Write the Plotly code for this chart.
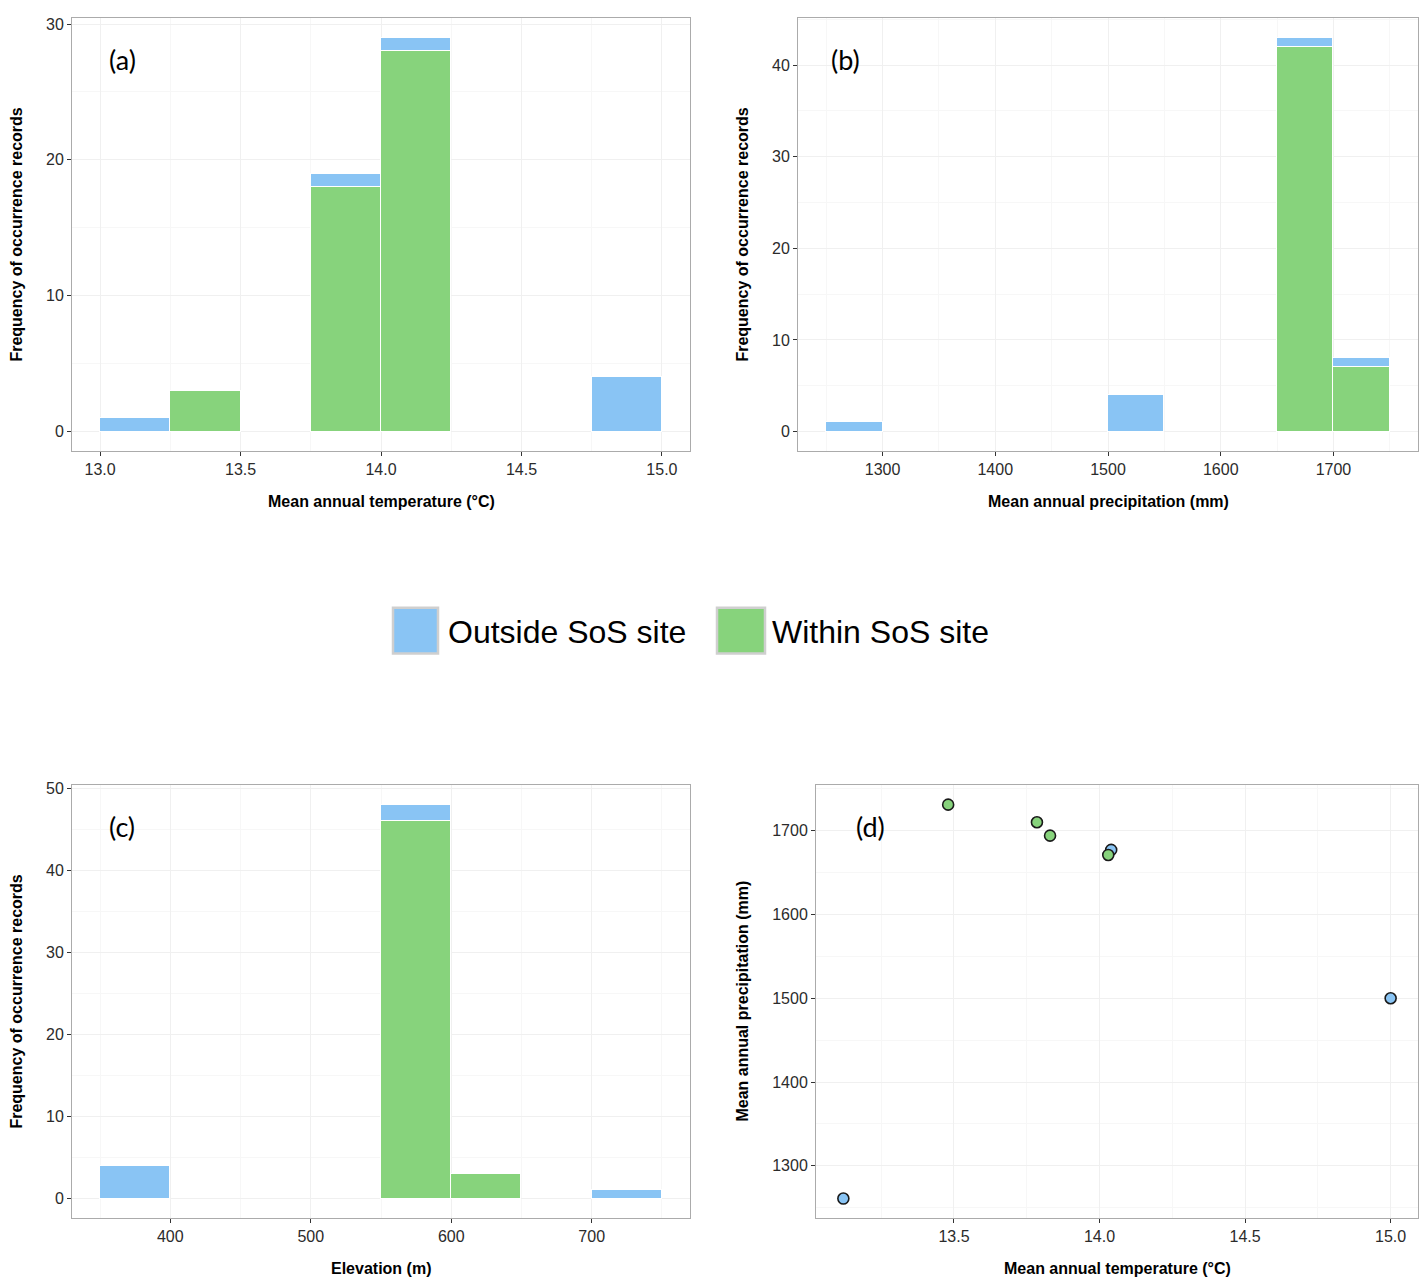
import plotly.graph_objects as go

W, H = 1428, 1282

# ---------------- data ----------------
series_names = ["Outside SoS site", "Within SoS site"]
series_colors = ["#89C4F4", "#87D37C"]

# (a) mean annual temperature histogram (bin width 0.25)
temp_bin_start = [13.0, 13.25, 13.5, 13.75, 14.0, 14.25, 14.5, 14.75]
temp_bin_width = 0.25
temp_outside = [1, 0, 0, 1, 1, 0, 0, 4]
temp_within = [0, 3, 0, 18, 28, 0, 0, 0]

# (b) mean annual precipitation histogram (bin width 50)
precip_bin_start = [1250, 1300, 1350, 1400, 1450, 1500, 1550, 1600, 1650, 1700]
precip_bin_width = 50
precip_outside = [1, 0, 0, 0, 0, 4, 0, 0, 1, 1]
precip_within = [0, 0, 0, 0, 0, 0, 0, 0, 42, 7]

# (c) elevation histogram (bin width 50)
elev_bin_start = [350, 400, 450, 500, 550, 600, 650, 700]
elev_bin_width = 50
elev_outside = [4, 0, 0, 0, 2, 0, 0, 1]
elev_within = [0, 0, 0, 0, 46, 3, 0, 0]

# (d) temperature vs precipitation
out_temp = [13.12, 14.04, 15.0]
out_precip = [1261, 1677, 1500]
in_temp = [13.48, 13.785, 13.83, 14.03]
in_precip = [1731, 1710, 1694, 1671]

panel_labels = ["(a)", "(b)", "(c)", "(d)"]
y_title_hist = "Frequency of occurrence records"
x_titles = ["Mean annual temperature (°C)", "Mean annual precipitation (mm)",
            "Elevation (m)", "Mean annual temperature (°C)"]
y_title_d = "Mean annual precipitation (mm)"

# ---------------- layout geometry (px) ----------------
def px_x(a, b):
    return [a / W, b / W]

def px_y(top, bottom):
    return [1 - bottom / H, 1 - top / H]

dom = {
    "a": (px_x(72, 690), px_y(13, 448)),
    "b": (px_x(798, 1418), px_y(13, 448)),
    "c": (px_x(72, 690), px_y(783, 1218)),
    "d": (px_x(816, 1418), px_y(783, 1218)),
}
axes_ids = {"a": ("x", "y"), "b": ("x2", "y2"), "c": ("x3", "y3"), "d": ("x4", "y4")}

fig = go.Figure()

def nz(v):
    return [c if c else None for c in v]

def add_hist(key, starts, width, outside, within):
    xa, ya = axes_ids[key]
    centers = [s + width / 2 for s in starts]
    fig.add_trace(go.Bar(x=centers, y=nz(within), width=width, name=series_names[1],
                         marker=dict(color=series_colors[1], line=dict(color="white", width=1)),
                         xaxis=xa, yaxis=ya, showlegend=False))
    fig.add_trace(go.Bar(x=centers, y=nz(outside), width=width, name=series_names[0],
                         marker=dict(color=series_colors[0], line=dict(color="white", width=1)),
                         xaxis=xa, yaxis=ya, showlegend=False))
    lo = starts[0]
    hi = starts[-1] + width
    span = hi - lo
    tot = max(o + w for o, w in zip(outside, within))
    return [lo - 0.05 * span, hi + 0.05 * span], [-0.05 * tot, tot * 1.05]

ra = add_hist("a", temp_bin_start, temp_bin_width, temp_outside, temp_within)
rb = add_hist("b", precip_bin_start, precip_bin_width, precip_outside, precip_within)
rc = add_hist("c", elev_bin_start, elev_bin_width, elev_outside, elev_within)

fig.add_trace(go.Scatter(x=out_temp, y=out_precip, mode="markers", name=series_names[0],
                         marker=dict(size=11, color=series_colors[0], line=dict(color="#1a1a1a", width=1.6)),
                         xaxis="x4", yaxis="y4", showlegend=False))
fig.add_trace(go.Scatter(x=in_temp, y=in_precip, mode="markers", name=series_names[1],
                         marker=dict(size=11, color=series_colors[1], line=dict(color="#1a1a1a", width=1.6)),
                         xaxis="x4", yaxis="y4", showlegend=False))

allx = out_temp + in_temp
ally = out_precip + in_precip
sx = max(allx) - min(allx)
sy = max(ally) - min(ally)
rd = ([min(allx) - 0.05 * sx, max(allx) + 0.05 * sx], [min(ally) - 0.05 * sy, max(ally) + 0.05 * sy])

FONT = "Liberation Sans, Arial, sans-serif"
tickfont = dict(family=FONT, size=16, color="#2b2b2b")

def axis_common(domain, rng, dtick, minor_dtick, tick0=None, fmt=None, anchor=None):
    d = dict(domain=domain, range=rng, dtick=dtick, ticks="outside", ticklen=4, tickwidth=1,
             tickcolor="#333333", tickfont=tickfont, showline=True, mirror=True,
             linecolor="#ababab", linewidth=1, showgrid=True, gridcolor="#f0f0f0", gridwidth=1,
             zeroline=False, anchor=anchor,
             minor=dict(dtick=minor_dtick, showgrid=True, gridcolor="#f7f7f7", gridwidth=1, ticks=""))
    if tick0 is not None:
        d["tick0"] = tick0
    if fmt:
        d["tickformat"] = fmt
    return d

fig.update_layout(
    xaxis=axis_common(dom["a"][0], ra[0], 0.5, 0.25, 13.0, ".1f", "y"),
    yaxis=axis_common(dom["a"][1], ra[1], 10, 5, 0, None, "x"),
    xaxis2=axis_common(dom["b"][0], rb[0], 100, 50, 1300, None, "y2"),
    yaxis2=axis_common(dom["b"][1], rb[1], 10, 5, 0, None, "x2"),
    xaxis3=axis_common(dom["c"][0], rc[0], 100, 50, 400, None, "y3"),
    yaxis3=axis_common(dom["c"][1], rc[1], 10, 5, 0, None, "x3"),
    xaxis4=axis_common(dom["d"][0], rd[0], 0.5, 0.25, 13.5, ".1f", "y4"),
    yaxis4=axis_common(dom["d"][1], rd[1], 100, 50, 1300, None, "x4"),
)

annotations = []
# panel labels
label_pos = {"a": (0.081, 0.905), "b": (0.077, 0.905), "c": (0.081, 0.905), "d": (0.09, 0.905)}
for lab, key in zip(panel_labels, ["a", "b", "c", "d"]):
    xa, ya = axes_ids[key]
    annotations.append(dict(text=lab, x=label_pos[key][0], y=label_pos[key][1],
                            xref=f"{xa} domain", yref=f"{ya} domain", showarrow=False,
                            xanchor="center", yanchor="middle",
                            font=dict(family="Lato, Carlito, sans-serif", size=27, color="black")))

# axis titles
title_font = dict(family=FONT, size=16, color="black")
x_title_y = {"a": 498, "b": 498, "c": 1268, "d": 1268}
for key, t in zip(["a", "b", "c", "d"], x_titles):
    xd = dom[key][0]
    annotations.append(dict(text=f"<b>{t}</b>", x=(xd[0] + xd[1]) / 2, y=1 - x_title_y[key] / H,
                            xref="paper", yref="paper", showarrow=False, xanchor="center",
                            yanchor="middle", font=title_font))
y_title_x = {"a": 17, "b": 743, "c": 17, "d": 743}
y_titles = {"a": y_title_hist, "b": y_title_hist, "c": y_title_hist, "d": y_title_d}
for key in ["a", "b", "c", "d"]:
    yd = dom[key][1]
    annotations.append(dict(text=f"<b>{y_titles[key]}</b>", x=y_title_x[key] / W, y=(yd[0] + yd[1]) / 2,
                            xref="paper", yref="paper", showarrow=False, xanchor="center",
                            yanchor="middle", textangle=-90, font=title_font))

# manual legend
shapes = []
legend_items = [(393, 438, 446), (717, 765, 770)]
for (x0, x1, tx), name, col in zip(legend_items, series_names, series_colors):
    shapes.append(dict(type="rect", xref="paper", yref="paper", x0=x0 / W, x1=x1 / W,
                       y0=1 - 651 / H, y1=1 - 605 / H, fillcolor=col,
                       line=dict(color="#cfcfcf", width=2.5)))
    annotations.append(dict(text=name, x=tx / W, y=1 - 629 / H, xref="paper", yref="paper",
                            showarrow=False, xanchor="left", yanchor="middle",
                            font=dict(family=FONT, size=32, color="black")))

fig.update_layout(
    annotations=annotations, shapes=shapes,
    barmode="stack", bargap=0,
    width=W, height=H, margin=dict(l=0, r=0, t=0, b=0),
    paper_bgcolor="white", plot_bgcolor="white", showlegend=False,
)

fig.write_html(
    "out.html",
    config={"displayModeBar": False},
    post_script="document.body.style.margin='0px';document.body.style.padding='0px';",
)
